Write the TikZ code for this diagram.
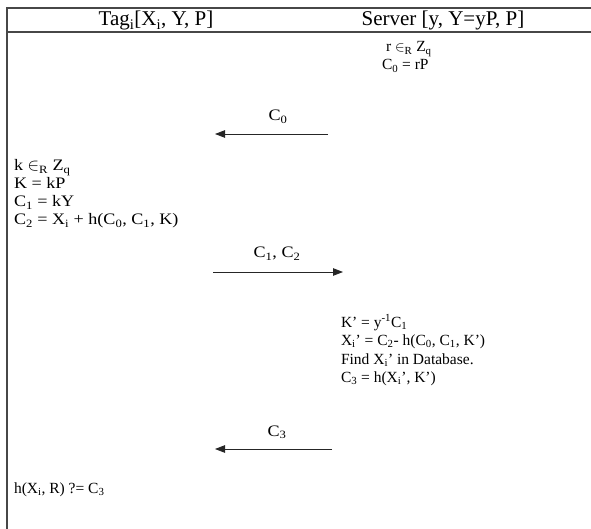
\documentclass[tikz,border=0pt]{standalone}
\usepackage{fontspec}
\setmainfont{Liberation Serif}
\newfontfamily\widefont[FakeStretch=1.13]{Liberation Serif}
\usetikzlibrary{arrows.meta}
\tikzset{
  rule/.style={draw=black!72, line width=1.3pt},
  txt/.style={inner sep=0pt, outer sep=0pt, font=\fontsize{15.5}{18}\selectfont, anchor=base west},
  widetxt/.style={inner sep=0pt, outer sep=0pt, font=\widefont\fontsize{16}{18}\selectfont, anchor=base west},
  lbl/.style={inner sep=0pt, outer sep=0pt, font=\widefont\fontsize{16}{18}\selectfont, anchor=base},
  head/.style={inner sep=0pt, outer sep=0pt, font=\fontsize{21}{22}\selectfont, anchor=base},
  msg/.style={draw=black!85, line width=0.9pt, -{Triangle[length=10pt,width=7.5pt]}}
}
\begin{document}
\begin{tikzpicture}[x=1pt,y=-1pt]
\useasboundingbox (0,0) rectangle (591,529);
% frame
\coordinate (tl) at (7,8);
\coordinate (tr) at (591,8);
\coordinate (hl) at (7,32);
\coordinate (hr) at (591,32);
\coordinate (bl) at (7,529);
\draw[rule] (tr) -- (tl) -- (bl);
\draw[rule] (hl) -- (hr);
% headers
\node[head] (htag) at (156,26) {Tag\textsubscript{i}[X\textsubscript{i}, Y, P]};
\node[head] (hsrv) at (443,26) {Server [y, Y=yP, P]};
% server step 1
\node[txt] (s1) at (386,52) {r $\in$\textsubscript{R} Z\textsubscript{q}};
\node[txt] (s2) at (382,70) {C\textsubscript{0} = rP};
% message C0
\coordinate (m1a) at (328,134);
\coordinate (m1b) at (215,134);
\draw[msg] (m1a) -- (m1b);
\node[lbl] (l1) at (278,121) {C\textsubscript{0}};
% tag step
\node[widetxt] (t1) at (14,171) {k $\in$\textsubscript{R} Z\textsubscript{q}};
\node[widetxt] (t2) at (14,189) {K = kP};
\node[widetxt] (t3) at (14,207) {C\textsubscript{1} = kY};
\node[widetxt] (t4) at (14,225) {C\textsubscript{2} = X\textsubscript{i} + h(C\textsubscript{0}, C\textsubscript{1}, K)};
% message C1, C2
\coordinate (m2a) at (213,272);
\coordinate (m2b) at (343,272);
\draw[msg] (m2a) -- (m2b);
\node[lbl] (l2) at (277,258) {C\textsubscript{1}, C\textsubscript{2}};
% server step 2
\node[txt] (u1) at (341,327) {K’ = y\textsuperscript{-1}C\textsubscript{1}};
\node[txt] (u2) at (341,345) {X\textsubscript{i}’ = C\textsubscript{2}- h(C\textsubscript{0}, C\textsubscript{1}, K’)};
\node[txt] (u3) at (341,364) {Find X\textsubscript{i}’ in Database.};
\node[txt] (u4) at (341,382) {C\textsubscript{3} = h(X\textsubscript{i}’, K’)};
% message C3
\coordinate (m3a) at (332,449);
\coordinate (m3b) at (215,449);
\draw[msg] (m3a) -- (m3b);
\node[lbl] (l3) at (277,436) {C\textsubscript{3}};
% tag final
\node[txt] (t5) at (14,493) {h(X\textsubscript{i}, R) ?= C\textsubscript{3}};
\end{tikzpicture}
\end{document}
